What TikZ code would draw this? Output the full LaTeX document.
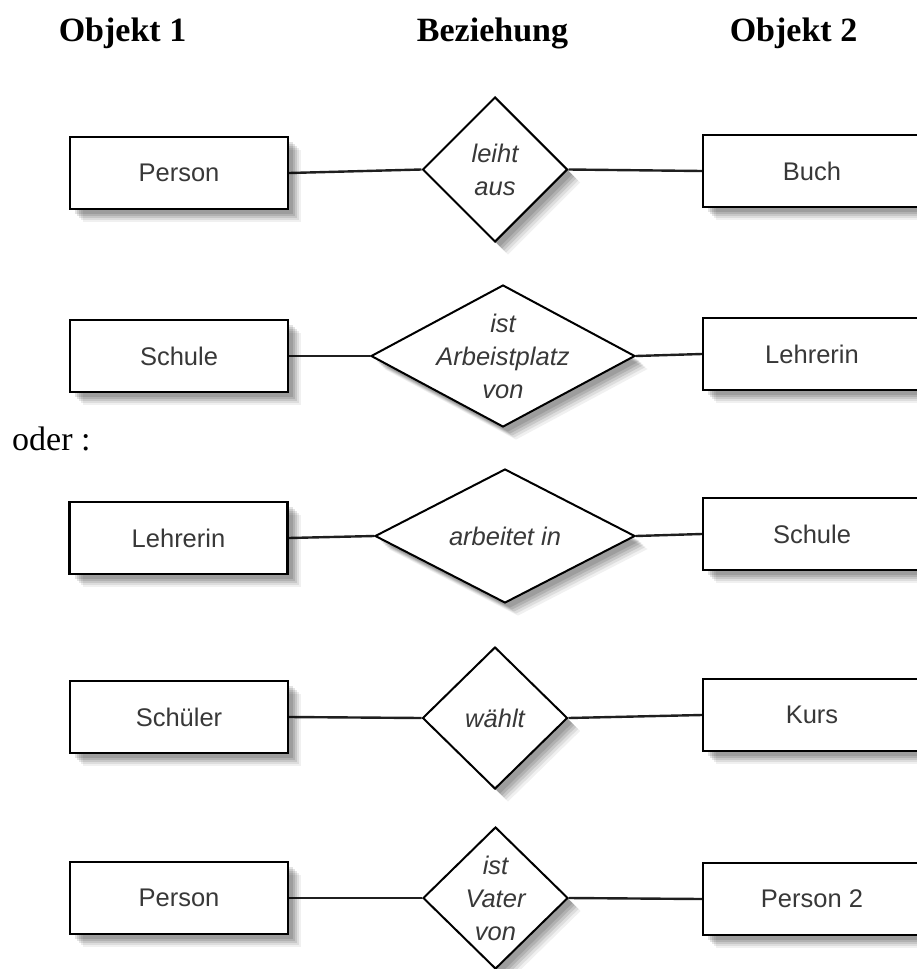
\documentclass[tikz,border=0pt]{standalone}
\usepackage{fontspec}
\setmainfont{Liberation Serif}
\newfontfamily\boxfont{Liberation Sans}
\usetikzlibrary{shapes.geometric,shadows,backgrounds}

\tikzset{
  softshadow/.style={
    drop shadow={shadow xshift=5pt, shadow yshift=-5pt, fill=black, opacity=0.11},
    drop shadow={shadow xshift=7pt, shadow yshift=-7pt, fill=black, opacity=0.11},
    drop shadow={shadow xshift=9pt, shadow yshift=-9pt, fill=black, opacity=0.10},
    drop shadow={shadow xshift=11pt, shadow yshift=-11pt, fill=black, opacity=0.08},
    drop shadow={shadow xshift=13pt, shadow yshift=-13pt, fill=black, opacity=0.06}
  },
  entity/.style={rectangle, draw=black, line width=2.4pt, fill=white,
    minimum width=218pt, minimum height=72pt, inner sep=0pt,
    font=\boxfont\fontsize{25.5}{30}\selectfont, text=black!78, softshadow},
  relation/.style={diamond, draw=black, line width=2pt, fill=white,
    inner sep=0pt, softshadow},
  dtext/.style={font=\boxfont\itshape\fontsize{25.5}{33}\selectfont,
    align=center, text=black!78, inner sep=0pt},
  heading/.style={font=\bfseries\fontsize{34}{40}\selectfont, anchor=base, inner sep=0pt},
  plain/.style={font=\fontsize{34}{40}\selectfont, anchor=base west, inner sep=0pt},
  conn/.style={draw=black!88, line width=2.4pt}
}

\begin{document}
\begin{tikzpicture}[x=1pt, y=-1pt]
\useasboundingbox (0,0) rectangle (917,969);
\begin{scope}
\clip (0,0) rectangle (917,969);

% headings
\node[heading] (h1) at (122.5,41) {Objekt 1};
\node[heading] (h2) at (492.5,41) {Beziehung};
\node[heading] (h3) at (793.5,41) {Objekt 2};
\node[plain] (oder) at (12,450) {oder :};

% row 1
\node[entity] (p1) at (179,173) {Person};
\node[relation, minimum width=145pt, minimum height=145pt,
  label={[dtext]center:{leiht\\aus}}] (r1) at (495,169.5) {};
\node[entity] (b1) at (812,171) {Buch};

% row 2
\node[entity] (s2) at (179,356) {Schule};
\node[relation, minimum width=264pt, minimum height=142pt,
  label={[dtext]center:{ist\\Arbeistplatz\\von}}] (r2) at (503,356) {};
\node[entity] (l2) at (812,354) {Lehrerin};

% row 3
\node[entity] (l3) at (178.5,538) {Lehrerin};
\node[relation, minimum width=260pt, minimum height=134pt,
  label={[dtext]center:{arbeitet in}}] (r3) at (505,536) {};
\node[entity] (s3) at (812,534) {Schule};

% row 4
\node[entity] (s4) at (179,717) {Schüler};
\node[relation, minimum width=145pt, minimum height=142pt,
  label={[dtext]center:{wählt}}] (r4) at (495,718) {};
\node[entity] (k4) at (812,715) {Kurs};

% row 5
\node[entity] (p5) at (179,898) {Person};
\node[relation, minimum width=145pt, minimum height=142pt,
  label={[dtext]center:{ist\\Vater\\von}}] (r5) at (495.5,898) {};
\node[entity] (q5) at (812,899) {Person 2};

\end{scope}

\begin{scope}[on background layer]
\draw[conn] (p1.east) -- (r1.west);
\draw[conn] (r1.east) -- (b1.west);
\draw[conn] (s2.east) -- (r2.west);
\draw[conn] (r2.east) -- (l2.west);
\draw[conn] (l3.east) -- (r3.west);
\draw[conn] (r3.east) -- (s3.west);
\draw[conn] (s4.east) -- (r4.west);
\draw[conn] (r4.east) -- (k4.west);
\draw[conn] (p5.east) -- (r5.west);
\draw[conn] (r5.east) -- (q5.west);
\end{scope}
\end{tikzpicture}
\end{document}
